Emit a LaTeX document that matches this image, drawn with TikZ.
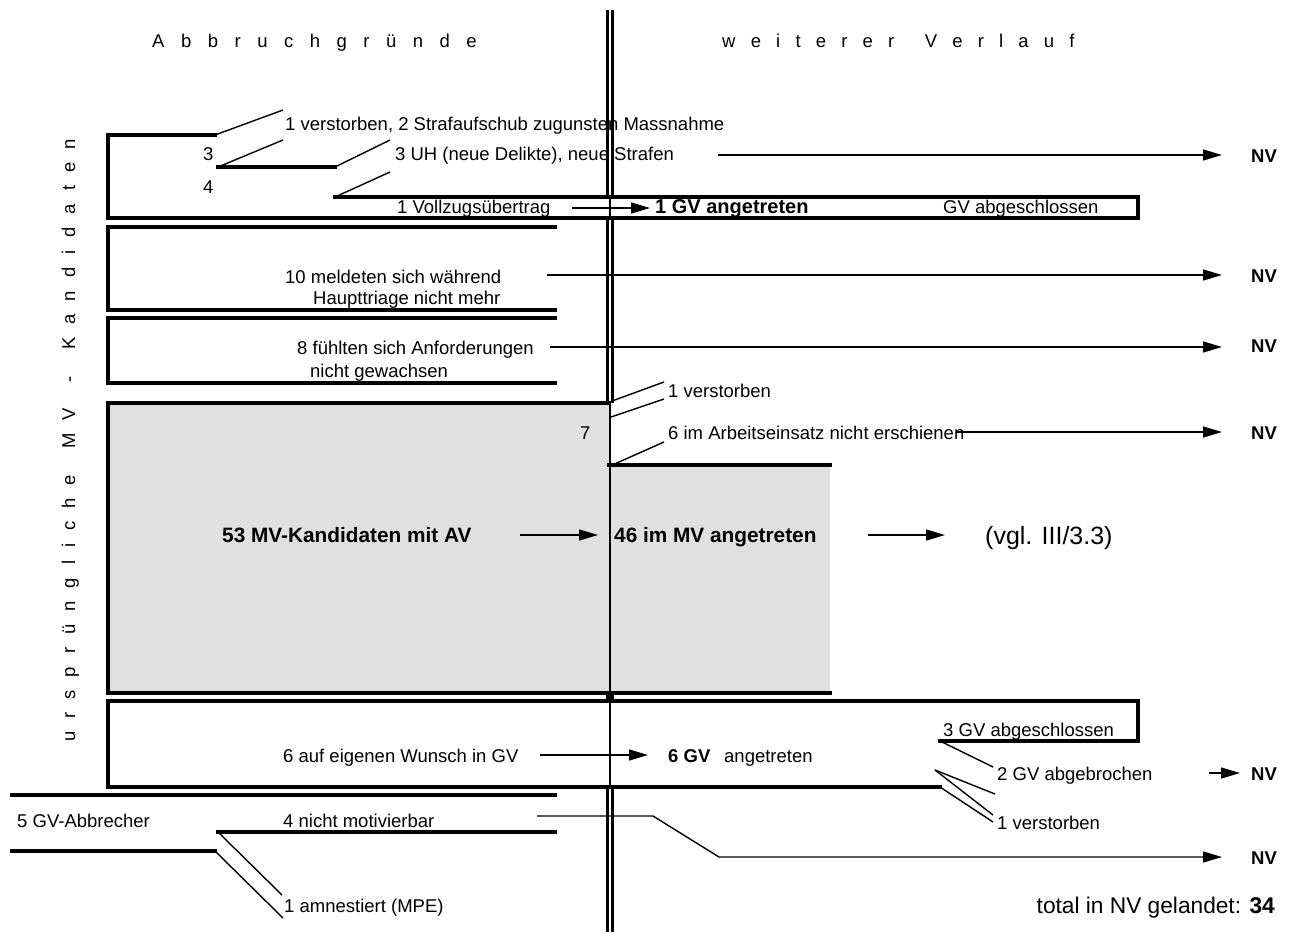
\documentclass[tikz,border=0pt]{standalone}
\usepackage{fontspec}
\setmainfont{Liberation Sans}
\usetikzlibrary{arrows.meta}
\newcommand\g{\hspace{16.5pt}}
\newcommand\gw{\hspace{15.2pt}}
\newcommand\gv{\hspace{13pt}}
\begin{document}
\begin{tikzpicture}[x=1pt,y=-1pt,
  frame/.style={line width=3.2pt, line join=miter, line cap=rect},
  vline/.style={line width=3pt},
  thinl/.style={line width=1.4pt},
  arr/.style={line width=1.4pt, -{Triangle[length=19pt,width=11pt]}},
  lbl/.style={inner sep=0pt, anchor=base west, font=\fontsize{18.5}{22}\selectfont},
  lblr/.style={lbl, anchor=base east},
  big/.style={inner sep=0pt, anchor=base west, font=\fontsize{20.8}{24}\selectfont\bfseries},
  nv/.style={lbl, font=\fontsize{18.5}{22}\selectfont\bfseries}
]
\useasboundingbox (0,0) rectangle (1292,932);

% shaded block of the MV candidates
\fill[black!12] (108,403) -- (609,403) -- (609,465) -- (830,465) -- (830,693) -- (108,693) -- cycle;

% dividing double line
\foreach \a/\b in {10/197, 218/403, 693/701, 787/932} {
  \draw[vline] (607.5,\a) -- (607.5,\b);
  \draw[vline] (612.5,\a) -- (612.5,\b);
}
\draw[thinl] (610,197) -- (610,218);
\draw[thinl] (610,403) -- (610,787);

% headings
\node[lbl] (h1) at (152,47) {A\g b\g b\g r\g u\g c\g h\g g\g r\g ü\g n\g d\g e};
\node[lbl] (h2) at (722,47) {w\gw e\gw i\gw t\gw e\gw r\gw e\gw r\gw\gw V\gw e\gw r\gw l\gw a\gw u\gw f};
\node[lbl, rotate=90] (side) at (75,742) {u\gv r\gv s\gv p\gv r\gv ü\gv n\gv g\gv l\gv i\gv c\gv h\gv e\gv\gv M\gv V\gv\gv -\gv\gv K\gv a\gv n\gv d\gv i\gv d\gv a\gv t\gv e\gv n};

% first block
\draw[frame] (215,135) -- (108,135) -- (108,218) -- (1138,218) -- (1138,197) -- (335,197);
\draw[frame] (218,167) -- (335,167);
\draw[thinl] (215,135) -- (283,110);
\draw[thinl] (218,167) -- (283,140);
\draw[thinl] (335,167) -- (390,140);
\draw[thinl] (335,197) -- (390,172);
\node[lbl] (t1) at (285,130) {1 verstorben, 2 Strafaufschub zugunsten Massnahme};
\node[lbl] (n3) at (203,160) {3};
\node[lbl] (t2) at (395,160) {3 UH (neue Delikte), neue Strafen};
\node[lbl] (n4) at (203,193) {4};
\node[lbl] (t3) at (397,213.5) {1 Vollzugsübertrag};
\node[big, font=\fontsize{20}{24}\selectfont\bfseries] (t4) at (655,213.5) {1 GV angetreten};
\node[lbl] (t5) at (943,213.5) {GV abgeschlossen};

% second and third block
\draw[frame] (555,227) -- (108,227) -- (108,310) -- (555,310);
\draw[frame] (555,318) -- (108,318) -- (108,383) -- (555,383);
\node[lbl] (t6) at (285,283) {10 meldeten sich während};
\node[lbl] (t7) at (313,304) {Haupttriage nicht mehr};
\node[lbl] (t8) at (297,354) {8 fühlten sich Anforderungen};
\node[lbl] (t9) at (310,377) {nicht gewachsen};

% MV block
\draw[frame] (609,403) -- (108,403) -- (108,693) -- (830,693);
\draw[frame] (609,465) -- (830,465);
\draw[thinl] (612,401) -- (664,382);
\draw[thinl] (611,417) -- (664,399);
\draw[thinl] (610,466) -- (664,442);
\node[lbl] (t10) at (668,397) {1 verstorben};
\node[lbl] (n7) at (580,439) {7};
\node[lbl] (t11) at (668,439) {6 im Arbeitseinsatz nicht erschienen};
\node[big] (t12) at (222,542) {53 MV-Kandidaten mit AV};
\node[big] (t13) at (614,542) {46 im MV angetreten};
\node[lbl, font=\fontsize{25}{29}\selectfont] (t14) at (985,544) {(vgl. III/3.3)};

% GV block
\draw[frame] (940,787) -- (108,787) -- (108,701) -- (1138,701) -- (1138,741) -- (940,741);
\draw[thinl] (940,741) -- (993,767);
\draw[thinl] (935,770) -- (995,794);
\draw[thinl] (935,770) -- (993,815);
\draw[thinl] (940,787) -- (993,822);
\node[lbl] (t15) at (943,736) {3 GV abgeschlossen};
\node[lbl] (t16) at (283,762) {6 auf eigenen Wunsch in GV};
\node[nv] (t17) at (668,762) {6 GV};
\node[lbl] (t18) at (724,762) {angetreten};
\node[lbl] (t19) at (997,780) {2 GV abgebrochen};
\node[lbl] (t20) at (997,829) {1 verstorben};

% GV drop-outs
\draw[frame] (12,795) -- (555,795);
\draw[frame] (218,832) -- (555,832);
\draw[frame] (12,851) -- (215,851);
\draw[thinl] (218,832) -- (282,895);
\draw[thinl] (215,851) -- (283,918);
\node[lbl] (t21) at (17,827) {5 GV-Abbrecher};
\node[lbl] (t22) at (283,827) {4 nicht motivierbar};
\node[lbl] (t23) at (284,912) {1 amnestiert (MPE)};
\node[lblr, font=\fontsize{22.7}{27}\selectfont] (tot) at (1275,913) {total in NV gelandet: \textbf{34}};

% outcome labels
\node[nv] (nv1) at (1251,162) {NV};
\node[nv] (nv2) at (1251,282) {NV};
\node[nv] (nv3) at (1251,352) {NV};
\node[nv] (nv4) at (1251,439) {NV};
\node[nv] (nv5) at (1251,780) {NV};
\node[nv] (nv6) at (1251,864) {NV};

% flow arrows
\coordinate (a1) at (718,155);  \coordinate (e1) at (1222,155);
\coordinate (a2) at (572,208);  \coordinate (e2) at (650,208);
\coordinate (a3) at (547,275);  \coordinate (e3) at (1222,275);
\coordinate (a4) at (550,347);  \coordinate (e4) at (1222,347);
\coordinate (a5) at (957,432);  \coordinate (e5) at (1222,432);
\coordinate (a6) at (520,535);  \coordinate (e6) at (598,535);
\coordinate (a7) at (868,535);  \coordinate (e7) at (945,535);
\coordinate (a8) at (540,755);  \coordinate (e8) at (648,755);
\coordinate (a9) at (1209,773); \coordinate (e9) at (1240,773);
\coordinate (a10) at (537,816); \coordinate (e10) at (1222,857);
\foreach \i in {1,...,9} { \draw[arr] (a\i) -- (e\i); }
\draw[arr] (a10) -- (653,816) -- (719,857) -- (e10);
\end{tikzpicture}
\end{document}
